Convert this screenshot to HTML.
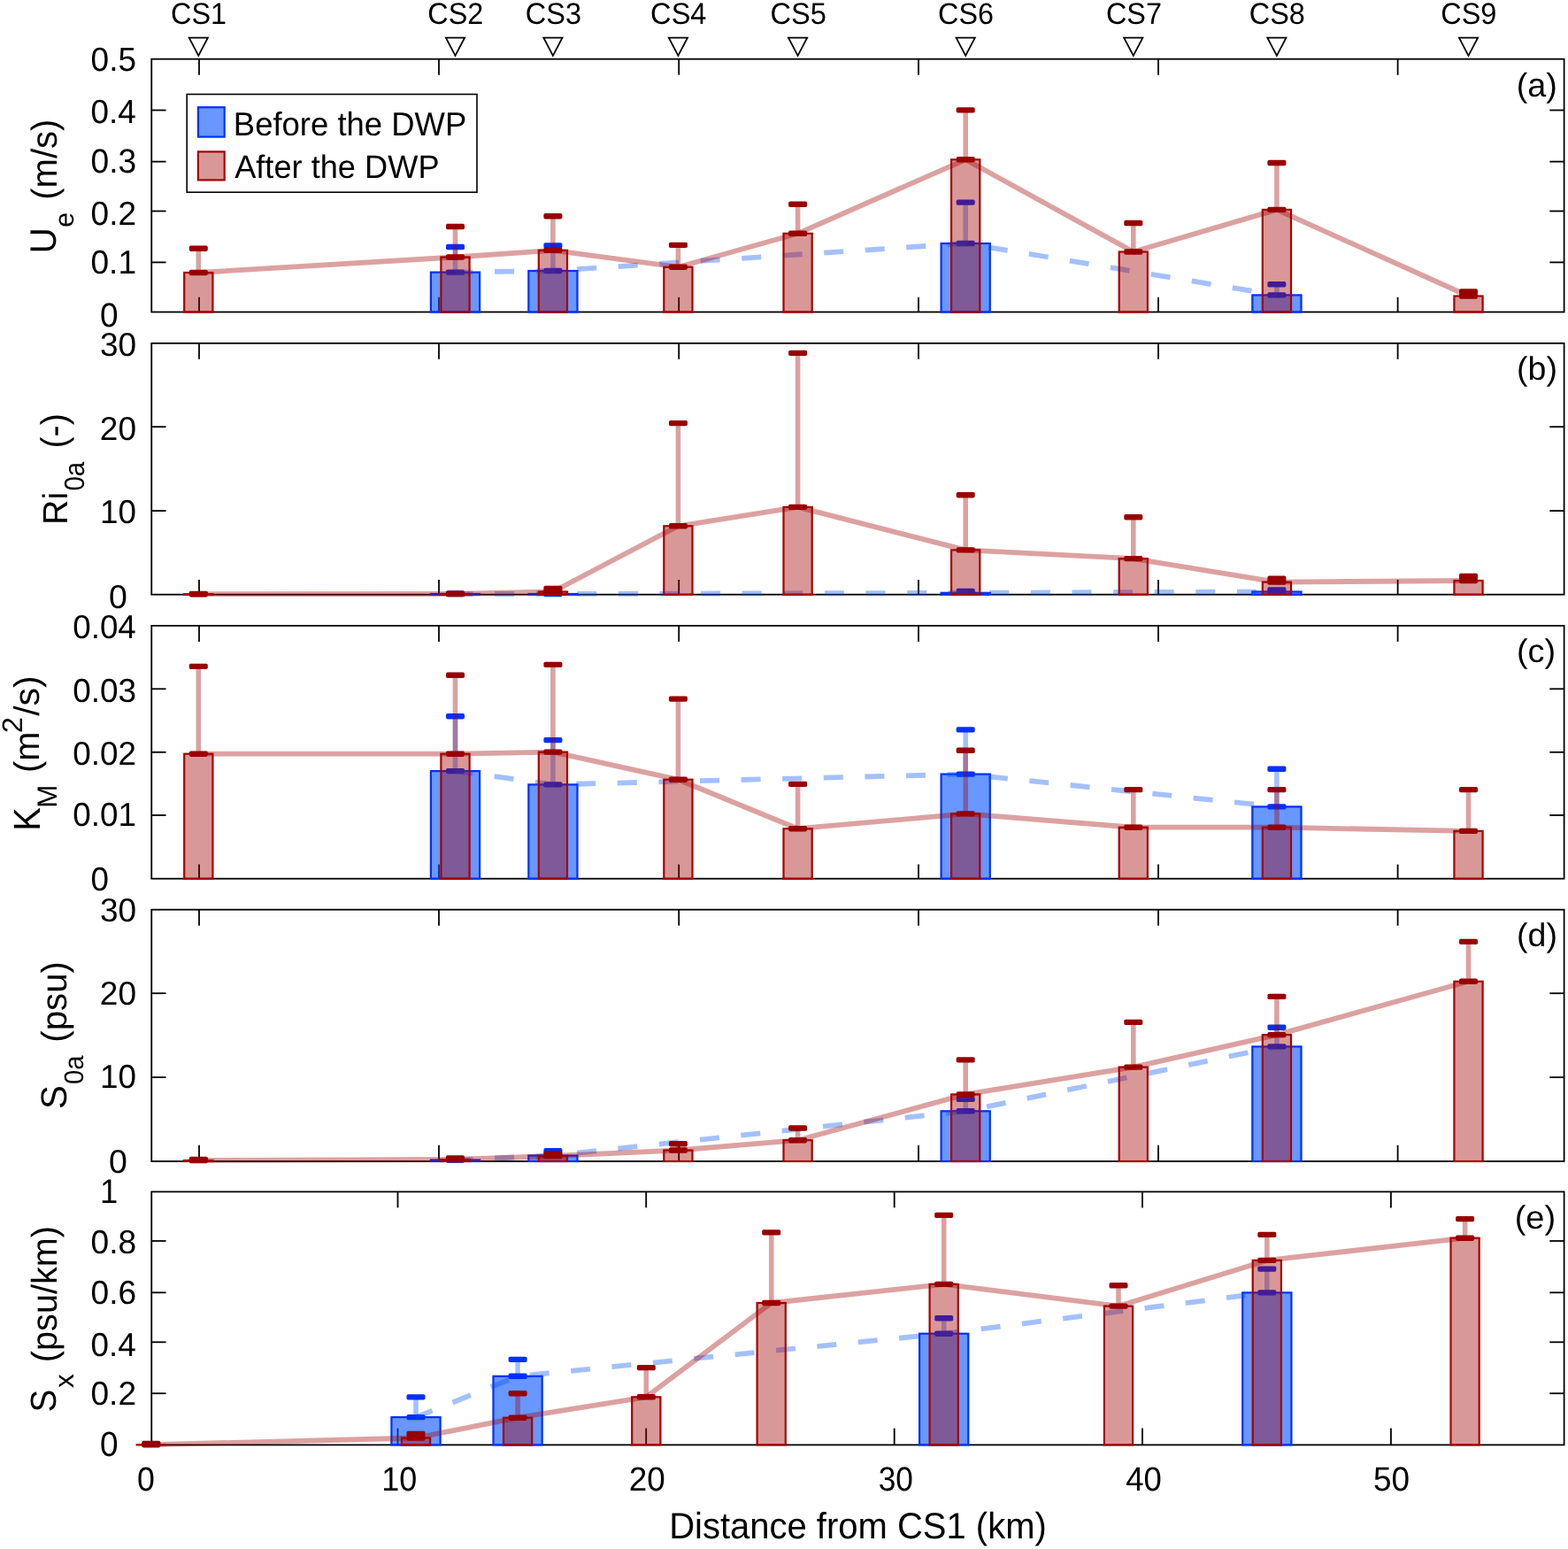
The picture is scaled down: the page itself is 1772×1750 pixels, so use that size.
<!DOCTYPE html><html><head><meta charset="utf-8"><title>figure</title>
<style>html,body{margin:0;padding:0;background:#fff;}svg{display:block;} text{font-family:'Liberation Sans',Arial,Helvetica,sans-serif;fill:#000;text-rendering:geometricPrecision;}</style></head><body>
<svg width="1772" height="1750" viewBox="0 0 1772 1750">
<rect x="0" y="0" width="1772" height="1750" fill="#fff"/>
<g><rect x="171.25" y="66.7" width="1596.35" height="285.8" fill="none" stroke="#000" stroke-width="1.8"/><line x1="225" y1="66.7" x2="225" y2="84.7" stroke="#000" stroke-width="1.8"/><line x1="225" y1="352.5" x2="225" y2="335.8" stroke="#000" stroke-width="1.8"/><line x1="496" y1="66.7" x2="496" y2="84.7" stroke="#000" stroke-width="1.8"/><line x1="496" y1="352.5" x2="496" y2="335.8" stroke="#000" stroke-width="1.8"/><line x1="767.2" y1="66.7" x2="767.2" y2="84.7" stroke="#000" stroke-width="1.8"/><line x1="767.2" y1="352.5" x2="767.2" y2="335.8" stroke="#000" stroke-width="1.8"/><line x1="1038" y1="66.7" x2="1038" y2="84.7" stroke="#000" stroke-width="1.8"/><line x1="1038" y1="352.5" x2="1038" y2="335.8" stroke="#000" stroke-width="1.8"/><line x1="1309" y1="66.7" x2="1309" y2="84.7" stroke="#000" stroke-width="1.8"/><line x1="1309" y1="352.5" x2="1309" y2="335.8" stroke="#000" stroke-width="1.8"/><line x1="1579.6" y1="66.7" x2="1579.6" y2="84.7" stroke="#000" stroke-width="1.8"/><line x1="1579.6" y1="352.5" x2="1579.6" y2="335.8" stroke="#000" stroke-width="1.8"/><line x1="171.25" y1="124.5" x2="187.55" y2="124.5" stroke="#000" stroke-width="1.8"/><line x1="1767.6" y1="124.5" x2="1751.3" y2="124.5" stroke="#000" stroke-width="1.8"/><line x1="171.25" y1="182.6" x2="187.55" y2="182.6" stroke="#000" stroke-width="1.8"/><line x1="1767.6" y1="182.6" x2="1751.3" y2="182.6" stroke="#000" stroke-width="1.8"/><line x1="171.25" y1="238.5" x2="187.55" y2="238.5" stroke="#000" stroke-width="1.8"/><line x1="1767.6" y1="238.5" x2="1751.3" y2="238.5" stroke="#000" stroke-width="1.8"/><line x1="171.25" y1="296.4" x2="187.55" y2="296.4" stroke="#000" stroke-width="1.8"/><line x1="1767.6" y1="296.4" x2="1751.3" y2="296.4" stroke="#000" stroke-width="1.8"/></g>
<g><rect x="486.9" y="307.6" width="55.2" height="44.9" fill="rgb(0,79,255)" fill-opacity="0.592" stroke="#0030ff" stroke-width="2.2"/><rect x="597.3" y="306" width="55.2" height="46.5" fill="rgb(0,79,255)" fill-opacity="0.592" stroke="#0030ff" stroke-width="2.2"/><rect x="1063.6" y="275" width="55.2" height="77.5" fill="rgb(0,79,255)" fill-opacity="0.592" stroke="#0030ff" stroke-width="2.2"/><rect x="1415.3" y="333.4" width="55.2" height="19.1" fill="rgb(0,79,255)" fill-opacity="0.592" stroke="#0030ff" stroke-width="2.2"/></g>
<g><line x1="514.5" y1="307.6" x2="514.5" y2="279" stroke="rgb(0,80,255)" stroke-width="5.6" stroke-opacity="0.36"/><line x1="624.9" y1="306" x2="624.9" y2="277.5" stroke="rgb(0,80,255)" stroke-width="5.6" stroke-opacity="0.36"/><line x1="1091.2" y1="275" x2="1091.2" y2="228.6" stroke="rgb(0,80,255)" stroke-width="5.6" stroke-opacity="0.36"/><line x1="1442.9" y1="333.4" x2="1442.9" y2="321.3" stroke="rgb(0,80,255)" stroke-width="5.6" stroke-opacity="0.36"/><rect x="504" y="275.8" width="21" height="6.4" rx="1.8" fill="#0030ff"/><rect x="504" y="304.4" width="21" height="6.4" rx="1.8" fill="#0030ff"/><rect x="614.4" y="274.3" width="21" height="6.4" rx="1.8" fill="#0030ff"/><rect x="614.4" y="302.8" width="21" height="6.4" rx="1.8" fill="#0030ff"/><rect x="1080.7" y="225.4" width="21" height="6.4" rx="1.8" fill="#0030ff"/><rect x="1080.7" y="271.8" width="21" height="6.4" rx="1.8" fill="#0030ff"/><rect x="1432.4" y="318.1" width="21" height="6.4" rx="1.8" fill="#0030ff"/><rect x="1432.4" y="330.2" width="21" height="6.4" rx="1.8" fill="#0030ff"/></g>
<polyline points="514.5,307.6 624.9,306 1091.2,275 1442.9,333.4" fill="none" stroke="rgb(0,80,255)" stroke-opacity="0.36" stroke-width="5.8" stroke-dasharray="22 24.6" stroke-dashoffset="2" stroke-linejoin="round"/>
<g><rect x="208.2" y="308" width="32.2" height="44.5" fill="rgb(161,0,0)" fill-opacity="0.404" stroke="#a80000" stroke-width="2.2"/><rect x="498.4" y="290.5" width="32.2" height="62" fill="rgb(161,0,0)" fill-opacity="0.404" stroke="#a80000" stroke-width="2.2"/><rect x="608.8" y="282.8" width="32.2" height="69.7" fill="rgb(161,0,0)" fill-opacity="0.404" stroke="#a80000" stroke-width="2.2"/><rect x="750.3" y="301.7" width="32.2" height="50.8" fill="rgb(161,0,0)" fill-opacity="0.404" stroke="#a80000" stroke-width="2.2"/><rect x="885.5" y="263.8" width="32.2" height="88.7" fill="rgb(161,0,0)" fill-opacity="0.404" stroke="#a80000" stroke-width="2.2"/><rect x="1075.1" y="180.3" width="32.2" height="172.2" fill="rgb(161,0,0)" fill-opacity="0.404" stroke="#a80000" stroke-width="2.2"/><rect x="1264.7" y="284.5" width="32.2" height="68" fill="rgb(161,0,0)" fill-opacity="0.404" stroke="#a80000" stroke-width="2.2"/><rect x="1426.8" y="236.9" width="32.2" height="115.6" fill="rgb(161,0,0)" fill-opacity="0.404" stroke="#a80000" stroke-width="2.2"/><rect x="1643.4" y="334.5" width="32.2" height="18" fill="rgb(161,0,0)" fill-opacity="0.404" stroke="#a80000" stroke-width="2.2"/></g>
<polyline points="224.3,308 514.5,290.5 624.9,282.8 766.4,301.7 901.6,263.8 1091.2,180.3 1280.8,284.5 1442.9,236.9 1659.5,334.5" fill="none" stroke="rgb(161,0,0)" stroke-opacity="0.37" stroke-width="5.8" stroke-linejoin="round"/>
<g><line x1="224.3" y1="308" x2="224.3" y2="280.7" stroke="rgb(161,0,0)" stroke-width="5.6" stroke-opacity="0.37"/><line x1="514.5" y1="290.5" x2="514.5" y2="256" stroke="rgb(161,0,0)" stroke-width="5.6" stroke-opacity="0.37"/><line x1="624.9" y1="282.8" x2="624.9" y2="244.3" stroke="rgb(161,0,0)" stroke-width="5.6" stroke-opacity="0.37"/><line x1="766.4" y1="301.7" x2="766.4" y2="276.9" stroke="rgb(161,0,0)" stroke-width="5.6" stroke-opacity="0.37"/><line x1="901.6" y1="263.8" x2="901.6" y2="230.8" stroke="rgb(161,0,0)" stroke-width="5.6" stroke-opacity="0.37"/><line x1="1091.2" y1="180.3" x2="1091.2" y2="124.4" stroke="rgb(161,0,0)" stroke-width="5.6" stroke-opacity="0.37"/><line x1="1280.8" y1="284.5" x2="1280.8" y2="252" stroke="rgb(161,0,0)" stroke-width="5.6" stroke-opacity="0.37"/><line x1="1442.9" y1="236.9" x2="1442.9" y2="184" stroke="rgb(161,0,0)" stroke-width="5.6" stroke-opacity="0.37"/><line x1="1659.5" y1="334.5" x2="1659.5" y2="329.5" stroke="rgb(161,0,0)" stroke-width="5.6" stroke-opacity="0.37"/><rect x="213.8" y="277.5" width="21" height="6.4" rx="1.8" fill="#990000"/><rect x="213.8" y="304.8" width="21" height="6.4" rx="1.8" fill="#990000"/><rect x="504" y="252.8" width="21" height="6.4" rx="1.8" fill="#990000"/><rect x="504" y="287.3" width="21" height="6.4" rx="1.8" fill="#990000"/><rect x="614.4" y="241.1" width="21" height="6.4" rx="1.8" fill="#990000"/><rect x="614.4" y="279.6" width="21" height="6.4" rx="1.8" fill="#990000"/><rect x="755.9" y="273.7" width="21" height="6.4" rx="1.8" fill="#990000"/><rect x="755.9" y="298.5" width="21" height="6.4" rx="1.8" fill="#990000"/><rect x="891.1" y="227.6" width="21" height="6.4" rx="1.8" fill="#990000"/><rect x="891.1" y="260.6" width="21" height="6.4" rx="1.8" fill="#990000"/><rect x="1080.7" y="121.2" width="21" height="6.4" rx="1.8" fill="#990000"/><rect x="1080.7" y="177.1" width="21" height="6.4" rx="1.8" fill="#990000"/><rect x="1270.3" y="248.8" width="21" height="6.4" rx="1.8" fill="#990000"/><rect x="1270.3" y="281.3" width="21" height="6.4" rx="1.8" fill="#990000"/><rect x="1432.4" y="180.8" width="21" height="6.4" rx="1.8" fill="#990000"/><rect x="1432.4" y="233.7" width="21" height="6.4" rx="1.8" fill="#990000"/><rect x="1649" y="326.3" width="21" height="6.4" rx="1.8" fill="#990000"/><rect x="1649" y="331.3" width="21" height="6.4" rx="1.8" fill="#990000"/></g>
<g><rect x="171.25" y="387.8" width="1596.35" height="283.9" fill="none" stroke="#000" stroke-width="1.8"/><line x1="225" y1="387.8" x2="225" y2="405.8" stroke="#000" stroke-width="1.8"/><line x1="225" y1="671.7" x2="225" y2="655" stroke="#000" stroke-width="1.8"/><line x1="496" y1="387.8" x2="496" y2="405.8" stroke="#000" stroke-width="1.8"/><line x1="496" y1="671.7" x2="496" y2="655" stroke="#000" stroke-width="1.8"/><line x1="767.2" y1="387.8" x2="767.2" y2="405.8" stroke="#000" stroke-width="1.8"/><line x1="767.2" y1="671.7" x2="767.2" y2="655" stroke="#000" stroke-width="1.8"/><line x1="1038" y1="387.8" x2="1038" y2="405.8" stroke="#000" stroke-width="1.8"/><line x1="1038" y1="671.7" x2="1038" y2="655" stroke="#000" stroke-width="1.8"/><line x1="1309" y1="387.8" x2="1309" y2="405.8" stroke="#000" stroke-width="1.8"/><line x1="1309" y1="671.7" x2="1309" y2="655" stroke="#000" stroke-width="1.8"/><line x1="1579.6" y1="387.8" x2="1579.6" y2="405.8" stroke="#000" stroke-width="1.8"/><line x1="1579.6" y1="671.7" x2="1579.6" y2="655" stroke="#000" stroke-width="1.8"/><line x1="171.25" y1="482.2" x2="187.55" y2="482.2" stroke="#000" stroke-width="1.8"/><line x1="1767.6" y1="482.2" x2="1751.3" y2="482.2" stroke="#000" stroke-width="1.8"/><line x1="171.25" y1="577.1" x2="187.55" y2="577.1" stroke="#000" stroke-width="1.8"/><line x1="1767.6" y1="577.1" x2="1751.3" y2="577.1" stroke="#000" stroke-width="1.8"/></g>
<g><rect x="486.9" y="671" width="55.2" height="0.7" fill="rgb(0,79,255)" fill-opacity="0.592" stroke="#0030ff" stroke-width="2.2"/><rect x="597.3" y="671" width="55.2" height="0.7" fill="rgb(0,79,255)" fill-opacity="0.592" stroke="#0030ff" stroke-width="2.2"/><rect x="1063.6" y="669.8" width="55.2" height="1.9" fill="rgb(0,79,255)" fill-opacity="0.592" stroke="#0030ff" stroke-width="2.2"/><rect x="1415.3" y="668.5" width="55.2" height="3.2" fill="rgb(0,79,255)" fill-opacity="0.592" stroke="#0030ff" stroke-width="2.2"/></g>
<g><line x1="1091.2" y1="669.8" x2="1091.2" y2="668" stroke="rgb(0,80,255)" stroke-width="5.6" stroke-opacity="0.36"/><line x1="1442.9" y1="668.5" x2="1442.9" y2="666.5" stroke="rgb(0,80,255)" stroke-width="5.6" stroke-opacity="0.36"/><rect x="504" y="667.6" width="21" height="6.4" rx="1.8" fill="#0030ff"/><rect x="504" y="667.8" width="21" height="6.4" rx="1.8" fill="#0030ff"/><rect x="614.4" y="667.3" width="21" height="6.4" rx="1.8" fill="#0030ff"/><rect x="614.4" y="667.8" width="21" height="6.4" rx="1.8" fill="#0030ff"/><rect x="1080.7" y="664.8" width="21" height="6.4" rx="1.8" fill="#0030ff"/><rect x="1080.7" y="666.6" width="21" height="6.4" rx="1.8" fill="#0030ff"/><rect x="1432.4" y="663.3" width="21" height="6.4" rx="1.8" fill="#0030ff"/><rect x="1432.4" y="665.3" width="21" height="6.4" rx="1.8" fill="#0030ff"/></g>
<polyline points="514.5,671 624.9,671 1091.2,669.8 1442.9,668.5" fill="none" stroke="rgb(0,80,255)" stroke-opacity="0.36" stroke-width="5.8" stroke-dasharray="22 24.6" stroke-dashoffset="2" stroke-linejoin="round"/>
<g><rect x="208.2" y="671.2" width="32.2" height="0.5" fill="rgb(161,0,0)" fill-opacity="0.404" stroke="#a80000" stroke-width="2.2"/><rect x="498.4" y="671" width="32.2" height="0.7" fill="rgb(161,0,0)" fill-opacity="0.404" stroke="#a80000" stroke-width="2.2"/><rect x="608.8" y="668.5" width="32.2" height="3.2" fill="rgb(161,0,0)" fill-opacity="0.404" stroke="#a80000" stroke-width="2.2"/><rect x="750.3" y="594.3" width="32.2" height="77.4" fill="rgb(161,0,0)" fill-opacity="0.404" stroke="#a80000" stroke-width="2.2"/><rect x="885.5" y="572.9" width="32.2" height="98.8" fill="rgb(161,0,0)" fill-opacity="0.404" stroke="#a80000" stroke-width="2.2"/><rect x="1075.1" y="621.4" width="32.2" height="50.3" fill="rgb(161,0,0)" fill-opacity="0.404" stroke="#a80000" stroke-width="2.2"/><rect x="1264.7" y="631.1" width="32.2" height="40.6" fill="rgb(161,0,0)" fill-opacity="0.404" stroke="#a80000" stroke-width="2.2"/><rect x="1426.8" y="657.6" width="32.2" height="14.1" fill="rgb(161,0,0)" fill-opacity="0.404" stroke="#a80000" stroke-width="2.2"/><rect x="1643.4" y="656" width="32.2" height="15.7" fill="rgb(161,0,0)" fill-opacity="0.404" stroke="#a80000" stroke-width="2.2"/></g>
<polyline points="224.3,671.2 514.5,671 624.9,668.5 766.4,594.3 901.6,572.9 1091.2,621.4 1280.8,631.1 1442.9,657.6 1659.5,656" fill="none" stroke="rgb(161,0,0)" stroke-opacity="0.37" stroke-width="5.8" stroke-linejoin="round"/>
<g><line x1="624.9" y1="668.5" x2="624.9" y2="665" stroke="rgb(161,0,0)" stroke-width="5.6" stroke-opacity="0.37"/><line x1="766.4" y1="594.3" x2="766.4" y2="478.1" stroke="rgb(161,0,0)" stroke-width="5.6" stroke-opacity="0.37"/><line x1="901.6" y1="572.9" x2="901.6" y2="398.9" stroke="rgb(161,0,0)" stroke-width="5.6" stroke-opacity="0.37"/><line x1="1091.2" y1="621.4" x2="1091.2" y2="559.2" stroke="rgb(161,0,0)" stroke-width="5.6" stroke-opacity="0.37"/><line x1="1280.8" y1="631.1" x2="1280.8" y2="584.3" stroke="rgb(161,0,0)" stroke-width="5.6" stroke-opacity="0.37"/><line x1="1442.9" y1="657.6" x2="1442.9" y2="653.7" stroke="rgb(161,0,0)" stroke-width="5.6" stroke-opacity="0.37"/><line x1="1659.5" y1="656" x2="1659.5" y2="651" stroke="rgb(161,0,0)" stroke-width="5.6" stroke-opacity="0.37"/><rect x="213.8" y="667.8" width="21" height="6.4" rx="1.8" fill="#990000"/><rect x="213.8" y="668" width="21" height="6.4" rx="1.8" fill="#990000"/><rect x="504" y="667.6" width="21" height="6.4" rx="1.8" fill="#990000"/><rect x="504" y="667.8" width="21" height="6.4" rx="1.8" fill="#990000"/><rect x="614.4" y="661.8" width="21" height="6.4" rx="1.8" fill="#990000"/><rect x="614.4" y="665.3" width="21" height="6.4" rx="1.8" fill="#990000"/><rect x="755.9" y="474.9" width="21" height="6.4" rx="1.8" fill="#990000"/><rect x="755.9" y="591.1" width="21" height="6.4" rx="1.8" fill="#990000"/><rect x="891.1" y="395.7" width="21" height="6.4" rx="1.8" fill="#990000"/><rect x="891.1" y="569.7" width="21" height="6.4" rx="1.8" fill="#990000"/><rect x="1080.7" y="556" width="21" height="6.4" rx="1.8" fill="#990000"/><rect x="1080.7" y="618.2" width="21" height="6.4" rx="1.8" fill="#990000"/><rect x="1270.3" y="581.1" width="21" height="6.4" rx="1.8" fill="#990000"/><rect x="1270.3" y="627.9" width="21" height="6.4" rx="1.8" fill="#990000"/><rect x="1432.4" y="650.5" width="21" height="6.4" rx="1.8" fill="#990000"/><rect x="1432.4" y="654.4" width="21" height="6.4" rx="1.8" fill="#990000"/><rect x="1649" y="647.8" width="21" height="6.4" rx="1.8" fill="#990000"/><rect x="1649" y="652.8" width="21" height="6.4" rx="1.8" fill="#990000"/></g>
<g><rect x="171.25" y="706.9" width="1596.35" height="285.8" fill="none" stroke="#000" stroke-width="1.8"/><line x1="225" y1="706.9" x2="225" y2="724.9" stroke="#000" stroke-width="1.8"/><line x1="225" y1="992.7" x2="225" y2="976.6" stroke="#000" stroke-width="1.8"/><line x1="496" y1="706.9" x2="496" y2="724.9" stroke="#000" stroke-width="1.8"/><line x1="496" y1="992.7" x2="496" y2="976.6" stroke="#000" stroke-width="1.8"/><line x1="767.2" y1="706.9" x2="767.2" y2="724.9" stroke="#000" stroke-width="1.8"/><line x1="767.2" y1="992.7" x2="767.2" y2="976.6" stroke="#000" stroke-width="1.8"/><line x1="1038" y1="706.9" x2="1038" y2="724.9" stroke="#000" stroke-width="1.8"/><line x1="1038" y1="992.7" x2="1038" y2="976.6" stroke="#000" stroke-width="1.8"/><line x1="1309" y1="706.9" x2="1309" y2="724.9" stroke="#000" stroke-width="1.8"/><line x1="1309" y1="992.7" x2="1309" y2="976.6" stroke="#000" stroke-width="1.8"/><line x1="1579.6" y1="706.9" x2="1579.6" y2="724.9" stroke="#000" stroke-width="1.8"/><line x1="1579.6" y1="992.7" x2="1579.6" y2="976.6" stroke="#000" stroke-width="1.8"/><line x1="171.25" y1="778.3" x2="187.55" y2="778.3" stroke="#000" stroke-width="1.8"/><line x1="1767.6" y1="778.3" x2="1751.3" y2="778.3" stroke="#000" stroke-width="1.8"/><line x1="171.25" y1="849.8" x2="187.55" y2="849.8" stroke="#000" stroke-width="1.8"/><line x1="1767.6" y1="849.8" x2="1751.3" y2="849.8" stroke="#000" stroke-width="1.8"/><line x1="171.25" y1="921" x2="187.55" y2="921" stroke="#000" stroke-width="1.8"/><line x1="1767.6" y1="921" x2="1751.3" y2="921" stroke="#000" stroke-width="1.8"/></g>
<g><rect x="486.9" y="871.1" width="55.2" height="121.6" fill="rgb(0,79,255)" fill-opacity="0.592" stroke="#0030ff" stroke-width="2.2"/><rect x="597.3" y="886.4" width="55.2" height="106.3" fill="rgb(0,79,255)" fill-opacity="0.592" stroke="#0030ff" stroke-width="2.2"/><rect x="1063.6" y="874.6" width="55.2" height="118.1" fill="rgb(0,79,255)" fill-opacity="0.592" stroke="#0030ff" stroke-width="2.2"/><rect x="1415.3" y="911.4" width="55.2" height="81.3" fill="rgb(0,79,255)" fill-opacity="0.592" stroke="#0030ff" stroke-width="2.2"/></g>
<g><line x1="514.5" y1="871.1" x2="514.5" y2="809.2" stroke="rgb(0,80,255)" stroke-width="5.6" stroke-opacity="0.36"/><line x1="624.9" y1="886.4" x2="624.9" y2="836.1" stroke="rgb(0,80,255)" stroke-width="5.6" stroke-opacity="0.36"/><line x1="1091.2" y1="874.6" x2="1091.2" y2="824.4" stroke="rgb(0,80,255)" stroke-width="5.6" stroke-opacity="0.36"/><line x1="1442.9" y1="911.4" x2="1442.9" y2="868.8" stroke="rgb(0,80,255)" stroke-width="5.6" stroke-opacity="0.36"/><rect x="504" y="806" width="21" height="6.4" rx="1.8" fill="#0030ff"/><rect x="504" y="867.9" width="21" height="6.4" rx="1.8" fill="#0030ff"/><rect x="614.4" y="832.9" width="21" height="6.4" rx="1.8" fill="#0030ff"/><rect x="614.4" y="883.2" width="21" height="6.4" rx="1.8" fill="#0030ff"/><rect x="1080.7" y="821.2" width="21" height="6.4" rx="1.8" fill="#0030ff"/><rect x="1080.7" y="871.4" width="21" height="6.4" rx="1.8" fill="#0030ff"/><rect x="1432.4" y="865.6" width="21" height="6.4" rx="1.8" fill="#0030ff"/><rect x="1432.4" y="908.2" width="21" height="6.4" rx="1.8" fill="#0030ff"/></g>
<polyline points="514.5,871.1 624.9,886.4 1091.2,874.6 1442.9,911.4" fill="none" stroke="rgb(0,80,255)" stroke-opacity="0.36" stroke-width="5.8" stroke-dasharray="22 24.6" stroke-dashoffset="2" stroke-linejoin="round"/>
<g><rect x="208.2" y="851.7" width="32.2" height="141" fill="rgb(161,0,0)" fill-opacity="0.404" stroke="#a80000" stroke-width="2.2"/><rect x="498.4" y="851.7" width="32.2" height="141" fill="rgb(161,0,0)" fill-opacity="0.404" stroke="#a80000" stroke-width="2.2"/><rect x="608.8" y="849.6" width="32.2" height="143.1" fill="rgb(161,0,0)" fill-opacity="0.404" stroke="#a80000" stroke-width="2.2"/><rect x="750.3" y="880.7" width="32.2" height="112" fill="rgb(161,0,0)" fill-opacity="0.404" stroke="#a80000" stroke-width="2.2"/><rect x="885.5" y="936.2" width="32.2" height="56.5" fill="rgb(161,0,0)" fill-opacity="0.404" stroke="#a80000" stroke-width="2.2"/><rect x="1075.1" y="919.4" width="32.2" height="73.3" fill="rgb(161,0,0)" fill-opacity="0.404" stroke="#a80000" stroke-width="2.2"/><rect x="1264.7" y="934.7" width="32.2" height="58" fill="rgb(161,0,0)" fill-opacity="0.404" stroke="#a80000" stroke-width="2.2"/><rect x="1426.8" y="934.7" width="32.2" height="58" fill="rgb(161,0,0)" fill-opacity="0.404" stroke="#a80000" stroke-width="2.2"/><rect x="1643.4" y="938.9" width="32.2" height="53.8" fill="rgb(161,0,0)" fill-opacity="0.404" stroke="#a80000" stroke-width="2.2"/></g>
<polyline points="224.3,851.7 514.5,851.7 624.9,849.6 766.4,880.7 901.6,936.2 1091.2,919.4 1280.8,934.7 1442.9,934.7 1659.5,938.9" fill="none" stroke="rgb(161,0,0)" stroke-opacity="0.37" stroke-width="5.8" stroke-linejoin="round"/>
<g><line x1="224.3" y1="851.7" x2="224.3" y2="752.9" stroke="rgb(161,0,0)" stroke-width="5.6" stroke-opacity="0.37"/><line x1="514.5" y1="851.7" x2="514.5" y2="762.8" stroke="rgb(161,0,0)" stroke-width="5.6" stroke-opacity="0.37"/><line x1="624.9" y1="849.6" x2="624.9" y2="750.9" stroke="rgb(161,0,0)" stroke-width="5.6" stroke-opacity="0.37"/><line x1="766.4" y1="880.7" x2="766.4" y2="789.6" stroke="rgb(161,0,0)" stroke-width="5.6" stroke-opacity="0.37"/><line x1="901.6" y1="936.2" x2="901.6" y2="885.9" stroke="rgb(161,0,0)" stroke-width="5.6" stroke-opacity="0.37"/><line x1="1091.2" y1="919.4" x2="1091.2" y2="847.8" stroke="rgb(161,0,0)" stroke-width="5.6" stroke-opacity="0.37"/><line x1="1280.8" y1="934.7" x2="1280.8" y2="892.1" stroke="rgb(161,0,0)" stroke-width="5.6" stroke-opacity="0.37"/><line x1="1442.9" y1="934.7" x2="1442.9" y2="892.1" stroke="rgb(161,0,0)" stroke-width="5.6" stroke-opacity="0.37"/><line x1="1659.5" y1="938.9" x2="1659.5" y2="892.1" stroke="rgb(161,0,0)" stroke-width="5.6" stroke-opacity="0.37"/><rect x="213.8" y="749.7" width="21" height="6.4" rx="1.8" fill="#990000"/><rect x="213.8" y="848.5" width="21" height="6.4" rx="1.8" fill="#990000"/><rect x="504" y="759.6" width="21" height="6.4" rx="1.8" fill="#990000"/><rect x="504" y="848.5" width="21" height="6.4" rx="1.8" fill="#990000"/><rect x="614.4" y="747.7" width="21" height="6.4" rx="1.8" fill="#990000"/><rect x="614.4" y="846.4" width="21" height="6.4" rx="1.8" fill="#990000"/><rect x="755.9" y="786.4" width="21" height="6.4" rx="1.8" fill="#990000"/><rect x="755.9" y="877.5" width="21" height="6.4" rx="1.8" fill="#990000"/><rect x="891.1" y="882.7" width="21" height="6.4" rx="1.8" fill="#990000"/><rect x="891.1" y="933" width="21" height="6.4" rx="1.8" fill="#990000"/><rect x="1080.7" y="844.6" width="21" height="6.4" rx="1.8" fill="#990000"/><rect x="1080.7" y="916.2" width="21" height="6.4" rx="1.8" fill="#990000"/><rect x="1270.3" y="888.9" width="21" height="6.4" rx="1.8" fill="#990000"/><rect x="1270.3" y="931.5" width="21" height="6.4" rx="1.8" fill="#990000"/><rect x="1432.4" y="888.9" width="21" height="6.4" rx="1.8" fill="#990000"/><rect x="1432.4" y="931.5" width="21" height="6.4" rx="1.8" fill="#990000"/><rect x="1649" y="888.9" width="21" height="6.4" rx="1.8" fill="#990000"/><rect x="1649" y="935.7" width="21" height="6.4" rx="1.8" fill="#990000"/></g>
<g><rect x="171.25" y="1027.7" width="1596.35" height="284.3" fill="none" stroke="#000" stroke-width="1.8"/><line x1="225" y1="1027.7" x2="225" y2="1045.7" stroke="#000" stroke-width="1.8"/><line x1="225" y1="1312" x2="225" y2="1293.8" stroke="#000" stroke-width="1.8"/><line x1="496" y1="1027.7" x2="496" y2="1045.7" stroke="#000" stroke-width="1.8"/><line x1="496" y1="1312" x2="496" y2="1293.8" stroke="#000" stroke-width="1.8"/><line x1="767.2" y1="1027.7" x2="767.2" y2="1045.7" stroke="#000" stroke-width="1.8"/><line x1="767.2" y1="1312" x2="767.2" y2="1293.8" stroke="#000" stroke-width="1.8"/><line x1="1038" y1="1027.7" x2="1038" y2="1045.7" stroke="#000" stroke-width="1.8"/><line x1="1038" y1="1312" x2="1038" y2="1293.8" stroke="#000" stroke-width="1.8"/><line x1="1309" y1="1027.7" x2="1309" y2="1045.7" stroke="#000" stroke-width="1.8"/><line x1="1309" y1="1312" x2="1309" y2="1293.8" stroke="#000" stroke-width="1.8"/><line x1="1579.6" y1="1027.7" x2="1579.6" y2="1045.7" stroke="#000" stroke-width="1.8"/><line x1="1579.6" y1="1312" x2="1579.6" y2="1293.8" stroke="#000" stroke-width="1.8"/><line x1="171.25" y1="1122.2" x2="187.55" y2="1122.2" stroke="#000" stroke-width="1.8"/><line x1="1767.6" y1="1122.2" x2="1751.3" y2="1122.2" stroke="#000" stroke-width="1.8"/><line x1="171.25" y1="1217.1" x2="187.55" y2="1217.1" stroke="#000" stroke-width="1.8"/><line x1="1767.6" y1="1217.1" x2="1751.3" y2="1217.1" stroke="#000" stroke-width="1.8"/></g>
<g><rect x="486.9" y="1310.5" width="55.2" height="1.5" fill="rgb(0,79,255)" fill-opacity="0.592" stroke="#0030ff" stroke-width="2.2"/><rect x="597.3" y="1305.5" width="55.2" height="6.5" fill="rgb(0,79,255)" fill-opacity="0.592" stroke="#0030ff" stroke-width="2.2"/><rect x="1063.6" y="1255.3" width="55.2" height="56.7" fill="rgb(0,79,255)" fill-opacity="0.592" stroke="#0030ff" stroke-width="2.2"/><rect x="1415.3" y="1182.4" width="55.2" height="129.6" fill="rgb(0,79,255)" fill-opacity="0.592" stroke="#0030ff" stroke-width="2.2"/></g>
<g><line x1="624.9" y1="1305.5" x2="624.9" y2="1300.3" stroke="rgb(0,80,255)" stroke-width="5.6" stroke-opacity="0.36"/><line x1="1091.2" y1="1255.3" x2="1091.2" y2="1241.9" stroke="rgb(0,80,255)" stroke-width="5.6" stroke-opacity="0.36"/><line x1="1442.9" y1="1182.4" x2="1442.9" y2="1160.7" stroke="rgb(0,80,255)" stroke-width="5.6" stroke-opacity="0.36"/><rect x="504" y="1306.8" width="21" height="6.4" rx="1.8" fill="#0030ff"/><rect x="504" y="1307.3" width="21" height="6.4" rx="1.8" fill="#0030ff"/><rect x="614.4" y="1297.1" width="21" height="6.4" rx="1.8" fill="#0030ff"/><rect x="614.4" y="1302.3" width="21" height="6.4" rx="1.8" fill="#0030ff"/><rect x="1080.7" y="1238.7" width="21" height="6.4" rx="1.8" fill="#0030ff"/><rect x="1080.7" y="1252.1" width="21" height="6.4" rx="1.8" fill="#0030ff"/><rect x="1432.4" y="1157.5" width="21" height="6.4" rx="1.8" fill="#0030ff"/><rect x="1432.4" y="1179.2" width="21" height="6.4" rx="1.8" fill="#0030ff"/></g>
<polyline points="514.5,1310.5 624.9,1305.5 1091.2,1255.3 1442.9,1182.4" fill="none" stroke="rgb(0,80,255)" stroke-opacity="0.36" stroke-width="5.8" stroke-dasharray="22 24.6" stroke-dashoffset="2" stroke-linejoin="round"/>
<g><rect x="208.2" y="1311" width="32.2" height="1" fill="rgb(161,0,0)" fill-opacity="0.404" stroke="#a80000" stroke-width="2.2"/><rect x="498.4" y="1310" width="32.2" height="2" fill="rgb(161,0,0)" fill-opacity="0.404" stroke="#a80000" stroke-width="2.2"/><rect x="608.8" y="1306" width="32.2" height="6" fill="rgb(161,0,0)" fill-opacity="0.404" stroke="#a80000" stroke-width="2.2"/><rect x="750.3" y="1299.5" width="32.2" height="12.5" fill="rgb(161,0,0)" fill-opacity="0.404" stroke="#a80000" stroke-width="2.2"/><rect x="885.5" y="1288.2" width="32.2" height="23.8" fill="rgb(161,0,0)" fill-opacity="0.404" stroke="#a80000" stroke-width="2.2"/><rect x="1075.1" y="1236.4" width="32.2" height="75.6" fill="rgb(161,0,0)" fill-opacity="0.404" stroke="#a80000" stroke-width="2.2"/><rect x="1264.7" y="1205.6" width="32.2" height="106.4" fill="rgb(161,0,0)" fill-opacity="0.404" stroke="#a80000" stroke-width="2.2"/><rect x="1426.8" y="1169.1" width="32.2" height="142.9" fill="rgb(161,0,0)" fill-opacity="0.404" stroke="#a80000" stroke-width="2.2"/><rect x="1643.4" y="1108.8" width="32.2" height="203.2" fill="rgb(161,0,0)" fill-opacity="0.404" stroke="#a80000" stroke-width="2.2"/></g>
<polyline points="224.3,1311 514.5,1310 624.9,1306 766.4,1299.5 901.6,1288.2 1091.2,1236.4 1280.8,1205.6 1442.9,1169.1 1659.5,1108.8" fill="none" stroke="rgb(161,0,0)" stroke-opacity="0.37" stroke-width="5.8" stroke-linejoin="round"/>
<g><line x1="224.3" y1="1311" x2="224.3" y2="1310" stroke="rgb(161,0,0)" stroke-width="5.6" stroke-opacity="0.37"/><line x1="514.5" y1="1310" x2="514.5" y2="1308.5" stroke="rgb(161,0,0)" stroke-width="5.6" stroke-opacity="0.37"/><line x1="624.9" y1="1306" x2="624.9" y2="1303.5" stroke="rgb(161,0,0)" stroke-width="5.6" stroke-opacity="0.37"/><line x1="766.4" y1="1299.5" x2="766.4" y2="1292.2" stroke="rgb(161,0,0)" stroke-width="5.6" stroke-opacity="0.37"/><line x1="901.6" y1="1288.2" x2="901.6" y2="1274.5" stroke="rgb(161,0,0)" stroke-width="5.6" stroke-opacity="0.37"/><line x1="1091.2" y1="1236.4" x2="1091.2" y2="1197.4" stroke="rgb(161,0,0)" stroke-width="5.6" stroke-opacity="0.37"/><line x1="1280.8" y1="1205.6" x2="1280.8" y2="1154.9" stroke="rgb(161,0,0)" stroke-width="5.6" stroke-opacity="0.37"/><line x1="1442.9" y1="1169.1" x2="1442.9" y2="1125.9" stroke="rgb(161,0,0)" stroke-width="5.6" stroke-opacity="0.37"/><line x1="1659.5" y1="1108.8" x2="1659.5" y2="1063.9" stroke="rgb(161,0,0)" stroke-width="5.6" stroke-opacity="0.37"/><rect x="213.8" y="1306.8" width="21" height="6.4" rx="1.8" fill="#990000"/><rect x="213.8" y="1307.8" width="21" height="6.4" rx="1.8" fill="#990000"/><rect x="504" y="1305.3" width="21" height="6.4" rx="1.8" fill="#990000"/><rect x="504" y="1306.8" width="21" height="6.4" rx="1.8" fill="#990000"/><rect x="614.4" y="1300.3" width="21" height="6.4" rx="1.8" fill="#990000"/><rect x="614.4" y="1302.8" width="21" height="6.4" rx="1.8" fill="#990000"/><rect x="755.9" y="1289" width="21" height="6.4" rx="1.8" fill="#990000"/><rect x="755.9" y="1296.3" width="21" height="6.4" rx="1.8" fill="#990000"/><rect x="891.1" y="1271.3" width="21" height="6.4" rx="1.8" fill="#990000"/><rect x="891.1" y="1285" width="21" height="6.4" rx="1.8" fill="#990000"/><rect x="1080.7" y="1194.2" width="21" height="6.4" rx="1.8" fill="#990000"/><rect x="1080.7" y="1233.2" width="21" height="6.4" rx="1.8" fill="#990000"/><rect x="1270.3" y="1151.7" width="21" height="6.4" rx="1.8" fill="#990000"/><rect x="1270.3" y="1202.4" width="21" height="6.4" rx="1.8" fill="#990000"/><rect x="1432.4" y="1122.7" width="21" height="6.4" rx="1.8" fill="#990000"/><rect x="1432.4" y="1165.9" width="21" height="6.4" rx="1.8" fill="#990000"/><rect x="1649" y="1060.7" width="21" height="6.4" rx="1.8" fill="#990000"/><rect x="1649" y="1105.6" width="21" height="6.4" rx="1.8" fill="#990000"/></g>
<g><rect x="171.25" y="1346.4" width="1596.35" height="286" fill="none" stroke="#000" stroke-width="1.8"/><line x1="449.5" y1="1346.4" x2="449.5" y2="1364.4" stroke="#000" stroke-width="1.8"/><line x1="449.5" y1="1632.4" x2="449.5" y2="1613.6" stroke="#000" stroke-width="1.8"/><line x1="730.2" y1="1346.4" x2="730.2" y2="1364.4" stroke="#000" stroke-width="1.8"/><line x1="730.2" y1="1632.4" x2="730.2" y2="1613.6" stroke="#000" stroke-width="1.8"/><line x1="1010.7" y1="1346.4" x2="1010.7" y2="1364.4" stroke="#000" stroke-width="1.8"/><line x1="1010.7" y1="1632.4" x2="1010.7" y2="1613.6" stroke="#000" stroke-width="1.8"/><line x1="1291" y1="1346.4" x2="1291" y2="1364.4" stroke="#000" stroke-width="1.8"/><line x1="1291" y1="1632.4" x2="1291" y2="1613.6" stroke="#000" stroke-width="1.8"/><line x1="1571.9" y1="1346.4" x2="1571.9" y2="1364.4" stroke="#000" stroke-width="1.8"/><line x1="1571.9" y1="1632.4" x2="1571.9" y2="1613.6" stroke="#000" stroke-width="1.8"/><line x1="171.25" y1="1402" x2="187.55" y2="1402" stroke="#000" stroke-width="1.8"/><line x1="1767.6" y1="1402" x2="1751.3" y2="1402" stroke="#000" stroke-width="1.8"/><line x1="171.25" y1="1460.3" x2="187.55" y2="1460.3" stroke="#000" stroke-width="1.8"/><line x1="1767.6" y1="1460.3" x2="1751.3" y2="1460.3" stroke="#000" stroke-width="1.8"/><line x1="171.25" y1="1516.3" x2="187.55" y2="1516.3" stroke="#000" stroke-width="1.8"/><line x1="1767.6" y1="1516.3" x2="1751.3" y2="1516.3" stroke="#000" stroke-width="1.8"/><line x1="171.25" y1="1574.2" x2="187.55" y2="1574.2" stroke="#000" stroke-width="1.8"/><line x1="1767.6" y1="1574.2" x2="1751.3" y2="1574.2" stroke="#000" stroke-width="1.8"/></g>
<g><rect x="442.4" y="1601.1" width="55.2" height="31.3" fill="rgb(0,79,255)" fill-opacity="0.592" stroke="#0030ff" stroke-width="2.2"/><rect x="557.5" y="1554.8" width="55.2" height="77.6" fill="rgb(0,79,255)" fill-opacity="0.592" stroke="#0030ff" stroke-width="2.2"/><rect x="1039.1" y="1506.7" width="55.2" height="125.7" fill="rgb(0,79,255)" fill-opacity="0.592" stroke="#0030ff" stroke-width="2.2"/><rect x="1404.2" y="1460.4" width="55.2" height="172" fill="rgb(0,79,255)" fill-opacity="0.592" stroke="#0030ff" stroke-width="2.2"/></g>
<g><line x1="470" y1="1601.1" x2="470" y2="1578.4" stroke="rgb(0,80,255)" stroke-width="5.6" stroke-opacity="0.36"/><line x1="585.1" y1="1554.8" x2="585.1" y2="1535.9" stroke="rgb(0,80,255)" stroke-width="5.6" stroke-opacity="0.36"/><line x1="1066.7" y1="1506.7" x2="1066.7" y2="1489.3" stroke="rgb(0,80,255)" stroke-width="5.6" stroke-opacity="0.36"/><line x1="1431.8" y1="1460.4" x2="1431.8" y2="1433.6" stroke="rgb(0,80,255)" stroke-width="5.6" stroke-opacity="0.36"/><rect x="459.5" y="1575.2" width="21" height="6.4" rx="1.8" fill="#0030ff"/><rect x="459.5" y="1597.9" width="21" height="6.4" rx="1.8" fill="#0030ff"/><rect x="574.6" y="1532.7" width="21" height="6.4" rx="1.8" fill="#0030ff"/><rect x="574.6" y="1551.6" width="21" height="6.4" rx="1.8" fill="#0030ff"/><rect x="1056.2" y="1486.1" width="21" height="6.4" rx="1.8" fill="#0030ff"/><rect x="1056.2" y="1503.5" width="21" height="6.4" rx="1.8" fill="#0030ff"/><rect x="1421.3" y="1430.4" width="21" height="6.4" rx="1.8" fill="#0030ff"/><rect x="1421.3" y="1457.2" width="21" height="6.4" rx="1.8" fill="#0030ff"/></g>
<polyline points="470,1601.1 585.1,1554.8 1066.7,1506.7 1431.8,1460.4" fill="none" stroke="rgb(0,80,255)" stroke-opacity="0.36" stroke-width="5.8" stroke-dasharray="22 24.6" stroke-dashoffset="2" stroke-linejoin="round"/>
<g><rect x="154.7" y="1632.2" width="32.2" height="0.2" fill="rgb(161,0,0)" fill-opacity="0.404" stroke="#a80000" stroke-width="2.2"/><rect x="453.9" y="1624.5" width="32.2" height="7.9" fill="rgb(161,0,0)" fill-opacity="0.404" stroke="#a80000" stroke-width="2.2"/><rect x="569" y="1601.7" width="32.2" height="30.7" fill="rgb(161,0,0)" fill-opacity="0.404" stroke="#a80000" stroke-width="2.2"/><rect x="714.2" y="1578.3" width="32.2" height="54.1" fill="rgb(161,0,0)" fill-opacity="0.404" stroke="#a80000" stroke-width="2.2"/><rect x="855.6" y="1472" width="32.2" height="160.4" fill="rgb(161,0,0)" fill-opacity="0.404" stroke="#a80000" stroke-width="2.2"/><rect x="1050.6" y="1450.9" width="32.2" height="181.5" fill="rgb(161,0,0)" fill-opacity="0.404" stroke="#a80000" stroke-width="2.2"/><rect x="1247.9" y="1475.6" width="32.2" height="156.8" fill="rgb(161,0,0)" fill-opacity="0.404" stroke="#a80000" stroke-width="2.2"/><rect x="1415.7" y="1423.9" width="32.2" height="208.5" fill="rgb(161,0,0)" fill-opacity="0.404" stroke="#a80000" stroke-width="2.2"/><rect x="1639.5" y="1398.7" width="32.2" height="233.7" fill="rgb(161,0,0)" fill-opacity="0.404" stroke="#a80000" stroke-width="2.2"/></g>
<polyline points="170.8,1632.2 470,1624.5 585.1,1601.7 730.3,1578.3 871.7,1472 1066.7,1450.9 1264,1475.6 1431.8,1423.9 1655.6,1398.7" fill="none" stroke="rgb(161,0,0)" stroke-opacity="0.37" stroke-width="5.8" stroke-linejoin="round"/>
<g><line x1="170.8" y1="1632.2" x2="170.8" y2="1631" stroke="rgb(161,0,0)" stroke-width="5.6" stroke-opacity="0.37"/><line x1="470" y1="1624.5" x2="470" y2="1620" stroke="rgb(161,0,0)" stroke-width="5.6" stroke-opacity="0.37"/><line x1="585.1" y1="1601.7" x2="585.1" y2="1574.2" stroke="rgb(161,0,0)" stroke-width="5.6" stroke-opacity="0.37"/><line x1="730.3" y1="1578.3" x2="730.3" y2="1545.1" stroke="rgb(161,0,0)" stroke-width="5.6" stroke-opacity="0.37"/><line x1="871.7" y1="1472" x2="871.7" y2="1392.4" stroke="rgb(161,0,0)" stroke-width="5.6" stroke-opacity="0.37"/><line x1="1066.7" y1="1450.9" x2="1066.7" y2="1372.9" stroke="rgb(161,0,0)" stroke-width="5.6" stroke-opacity="0.37"/><line x1="1264" y1="1475.6" x2="1264" y2="1452.3" stroke="rgb(161,0,0)" stroke-width="5.6" stroke-opacity="0.37"/><line x1="1431.8" y1="1423.9" x2="1431.8" y2="1394.9" stroke="rgb(161,0,0)" stroke-width="5.6" stroke-opacity="0.37"/><line x1="1655.6" y1="1398.7" x2="1655.6" y2="1377.1" stroke="rgb(161,0,0)" stroke-width="5.6" stroke-opacity="0.37"/><rect x="160.3" y="1627.8" width="21" height="6.4" rx="1.8" fill="#990000"/><rect x="160.3" y="1629" width="21" height="6.4" rx="1.8" fill="#990000"/><rect x="459.5" y="1616.8" width="21" height="6.4" rx="1.8" fill="#990000"/><rect x="459.5" y="1621.3" width="21" height="6.4" rx="1.8" fill="#990000"/><rect x="574.6" y="1571" width="21" height="6.4" rx="1.8" fill="#990000"/><rect x="574.6" y="1598.5" width="21" height="6.4" rx="1.8" fill="#990000"/><rect x="719.8" y="1541.9" width="21" height="6.4" rx="1.8" fill="#990000"/><rect x="719.8" y="1575.1" width="21" height="6.4" rx="1.8" fill="#990000"/><rect x="861.2" y="1389.2" width="21" height="6.4" rx="1.8" fill="#990000"/><rect x="861.2" y="1468.8" width="21" height="6.4" rx="1.8" fill="#990000"/><rect x="1056.2" y="1369.7" width="21" height="6.4" rx="1.8" fill="#990000"/><rect x="1056.2" y="1447.7" width="21" height="6.4" rx="1.8" fill="#990000"/><rect x="1253.5" y="1449.1" width="21" height="6.4" rx="1.8" fill="#990000"/><rect x="1253.5" y="1472.4" width="21" height="6.4" rx="1.8" fill="#990000"/><rect x="1421.3" y="1391.7" width="21" height="6.4" rx="1.8" fill="#990000"/><rect x="1421.3" y="1420.7" width="21" height="6.4" rx="1.8" fill="#990000"/><rect x="1645.1" y="1373.9" width="21" height="6.4" rx="1.8" fill="#990000"/><rect x="1645.1" y="1395.5" width="21" height="6.4" rx="1.8" fill="#990000"/></g>
<g><polygon points="213.7,42.6 234.9,42.6 224.3,62.8" fill="#fff" stroke="#000" stroke-width="1.8" stroke-linejoin="miter"/><polygon points="503.9,42.6 525.1,42.6 514.5,62.8" fill="#fff" stroke="#000" stroke-width="1.8" stroke-linejoin="miter"/><polygon points="614.3,42.6 635.5,42.6 624.9,62.8" fill="#fff" stroke="#000" stroke-width="1.8" stroke-linejoin="miter"/><polygon points="755.8,42.6 777,42.6 766.4,62.8" fill="#fff" stroke="#000" stroke-width="1.8" stroke-linejoin="miter"/><polygon points="891,42.6 912.2,42.6 901.6,62.8" fill="#fff" stroke="#000" stroke-width="1.8" stroke-linejoin="miter"/><polygon points="1080.6,42.6 1101.8,42.6 1091.2,62.8" fill="#fff" stroke="#000" stroke-width="1.8" stroke-linejoin="miter"/><polygon points="1270.2,42.6 1291.4,42.6 1280.8,62.8" fill="#fff" stroke="#000" stroke-width="1.8" stroke-linejoin="miter"/><polygon points="1432.3,42.6 1453.5,42.6 1442.9,62.8" fill="#fff" stroke="#000" stroke-width="1.8" stroke-linejoin="miter"/><polygon points="1648.9,42.6 1670.1,42.6 1659.5,62.8" fill="#fff" stroke="#000" stroke-width="1.8" stroke-linejoin="miter"/></g>
<g><rect x="211.2" y="106.5" width="327.8" height="110.7" fill="#fff" stroke="#000" stroke-width="1.6"/><rect x="223.9" y="121.2" width="29.8" height="33.4" fill="rgb(0,79,255)" fill-opacity="0.592" stroke="#0030ff" stroke-width="2.2"/><rect x="223.9" y="171.4" width="29.8" height="32" fill="rgb(161,0,0)" fill-opacity="0.404" stroke="#a80000" stroke-width="2.2"/></g>
<g><text transform="translate(102.55,80.38) scale(0.9741,0.9931)" font-size="38">0.5</text><text transform="translate(102.57,138.67) scale(0.9684,0.9924)" font-size="38">0.4</text><text transform="translate(102.5,195.4) scale(0.9782,1.0079)" font-size="38">0.3</text><text transform="translate(102.55,253.58) scale(0.9741,0.9931)" font-size="38">0.2</text><text transform="translate(102.46,309.45) scale(0.9764,0.9857)" font-size="38">0.1</text><text transform="translate(113.06,368.61) scale(0.9725,1.0073)" font-size="38">0</text><text transform="translate(112.93,401.75) scale(0.9739,0.9846)" font-size="38">30</text><text transform="translate(112.86,497.35) scale(0.9745,0.9846)" font-size="38">20</text><text transform="translate(112.92,591.45) scale(0.9688,0.9850)" font-size="38">10</text><text transform="translate(123.04,686.65) scale(0.9850,0.9839)" font-size="38">0</text><text transform="translate(82.29,720.75) scale(0.9658,0.9839)" font-size="38">0.04</text><text transform="translate(82.26,792.65) scale(0.9716,0.9869)" font-size="38">0.03</text><text transform="translate(82.28,864.25) scale(0.9684,0.9840)" font-size="38">0.02</text><text transform="translate(82.28,933.35) scale(0.9677,0.9870)" font-size="38">0.01</text><text transform="translate(102.6,1005.55) scale(0.9685,0.9862)" font-size="38">0</text><text transform="translate(112.93,1040.75) scale(0.9739,0.9846)" font-size="38">30</text><text transform="translate(112.86,1135.25) scale(0.9745,0.9846)" font-size="38">20</text><text transform="translate(112.92,1229.35) scale(0.9688,0.9850)" font-size="38">10</text><text transform="translate(123.04,1324.55) scale(0.9850,0.9839)" font-size="38">0</text><text transform="translate(112.88,1359.2) scale(0.9593,1.0106)" font-size="38">1</text><text transform="translate(102.48,1416.35) scale(0.9773,0.9853)" font-size="38">0.8</text><text transform="translate(102.46,1473.35) scale(0.9782,0.9863)" font-size="38">0.6</text><text transform="translate(102.51,1531.65) scale(0.9697,0.9853)" font-size="38">0.4</text><text transform="translate(102.48,1587.25) scale(0.9762,0.9856)" font-size="38">0.2</text><text transform="translate(113.04,1644.56) scale(0.9731,1.0411)" font-size="38">0</text><text transform="translate(155.03,1683.64) scale(0.9386,0.9996)" font-size="38">0</text><text transform="translate(431.19,1683.61) scale(0.9466,1.0053)" font-size="38">10</text><text transform="translate(710.78,1683.56) scale(0.9691,1.0029)" font-size="38">20</text><text transform="translate(992.63,1683.63) scale(0.9282,1.0071)" font-size="38">30</text><text transform="translate(1272.28,1683.58) scale(0.9607,1.0042)" font-size="38">40</text><text transform="translate(1552.07,1683.62) scale(0.9718,1.0065)" font-size="38">50</text><text transform="translate(193.04,26.9) scale(0.9525,1.0020)" font-size="34">CS1</text><text transform="translate(483.25,26.94) scale(0.9530,1.0037)" font-size="34">CS2</text><text transform="translate(593.83,26.88) scale(0.9541,1.0015)" font-size="34">CS3</text><text transform="translate(735.12,26.91) scale(0.9575,1.0026)" font-size="34">CS4</text><text transform="translate(870.42,26.91) scale(0.9576,1.0026)" font-size="34">CS5</text><text transform="translate(1060.1,26.75) scale(0.9515,0.9956)" font-size="34">CS6</text><text transform="translate(1249.93,26.9) scale(0.9518,1.0021)" font-size="34">CS7</text><text transform="translate(1411.83,26.88) scale(0.9526,1.0013)" font-size="34">CS8</text><text transform="translate(1628.25,26.91) scale(0.9522,1.0026)" font-size="34">CS9</text><text transform="translate(263.87,152.74) scale(0.9986,1.0276)" font-size="36.5">Before the DWP</text><text transform="translate(265.13,200.65) scale(0.9921,1.0061)" font-size="36.5">After the DWP</text><text transform="translate(1713.64,109.49) scale(1.0499,1.0419)" font-size="36">(a)</text><text transform="translate(1714,428.64) scale(1.0434,1.0283)" font-size="36">(b)</text><text transform="translate(1713.99,748.12) scale(1.0503,1.0240)" font-size="36">(c)</text><text transform="translate(1714,1068.64) scale(1.0434,1.0283)" font-size="36">(d)</text><text transform="translate(1711.71,1388.12) scale(1.0545,1.0240)" font-size="36">(e)</text><text transform="translate(63.41,286.32) rotate(-90) scale(1.0036,1.0385)" font-size="40">U</text><text transform="translate(83.47,256.87) rotate(-90) scale(1.0076,1.0230)" font-size="30">e</text><text transform="translate(64.08,225.81) rotate(-90) scale(1.0014,1.0176)" font-size="40">(m/s)</text><text transform="translate(75.55,592.96) rotate(-90) scale(0.9840,0.9827)" font-size="40">Ri</text><text transform="translate(95.21,554.6) rotate(-90) scale(0.9846,1.0591)" font-size="30">0a</text><text transform="translate(75.46,506.45) rotate(-90) scale(0.9800,1.0264)" font-size="40">(-)</text><text transform="translate(44.5,938.8) rotate(-90) scale(0.9962,1.0612)" font-size="40">K</text><text transform="translate(63.5,912.83) rotate(-90) scale(1.0460,1.0407)" font-size="30">M</text><text transform="translate(43.97,873.06) rotate(-90) scale(0.9929,1.0039)" font-size="40">(m</text><text transform="translate(25.2,828.36) rotate(-90) scale(1.0861,1.0774)" font-size="30">2</text><text transform="translate(43.97,808.72) rotate(-90) scale(1.0188,1.0039)" font-size="40">/s)</text><text transform="translate(74.58,1253.05) rotate(-90) scale(1.0055,1.0288)" font-size="40">S</text><text transform="translate(94.48,1224.93) rotate(-90) scale(0.9721,1.0219)" font-size="30">0a</text><text transform="translate(74.74,1177.65) rotate(-90) scale(1.0040,1.0064)" font-size="40">(psu)</text><text transform="translate(62.84,1595.6) rotate(-90) scale(0.9647,1.0207)" font-size="40">S</text><text transform="translate(83.4,1567.89) rotate(-90) scale(1.0476,1.0290)" font-size="30">x</text><text transform="translate(63.65,1539.13) rotate(-90) scale(0.9905,1.0112)" font-size="40">(psu/km)</text><text transform="translate(756.13,1737.66) scale(0.9998,1.0400)" font-size="40">Distance from CS1 (km)</text></g>
</svg></body></html>
